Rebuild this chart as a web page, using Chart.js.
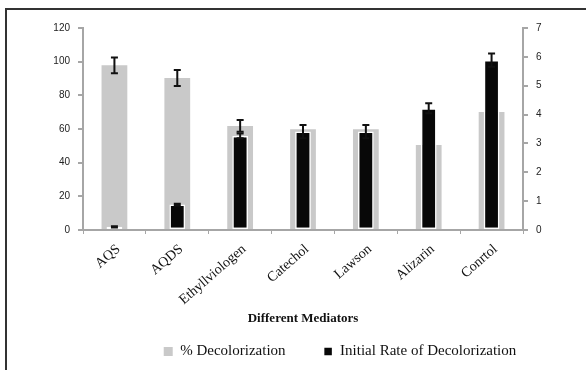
<!DOCTYPE html>
<html>
<head>
<meta charset="utf-8">
<script src="https://cdn.jsdelivr.net/npm/chart.js@4.4.1/dist/chart.umd.min.js"></script>
<style>
  html, body { margin: 0; padding: 0; background: #fff; }
  #wrap { position: relative; width: 586px; height: 370px; overflow: hidden; }
  #frame { position: absolute; left: 5px; top: 8px; width: 620px; height: 400px;
           border-left: 2px solid #333; border-top: 2px solid #333; }
  #chart { position: absolute; left: 0; top: 0; }
</style>
</head>
<body>
<div id="wrap">
  <div id="frame"></div>
  <canvas id="chart" width="586" height="370"></canvas>
</div>
<script>
// values
var mediators = ["AQS", "AQDS", "Ethyllviologen", "Catechol", "Lawson", "Alizarin", "Conrtol"];
var decolorization = [97.8, 90.3, 61.8, 59.8, 59.8, 50.5, 70.1];
var decolorizationErr = [4.7, 4.7, 3.5, null, null, null, null];
var initialRate = [0.11, 0.88, 3.26, 3.41, 3.41, 4.22, 5.89];
var initialRateErr = [0.02, 0.03, 0.08, 0.23, 0.23, 0.17, 0.23];
var leftTicks = [0, 20, 40, 60, 80, 100, 120];
var rightTicks = [0, 1, 2, 3, 4, 5, 6, 7];

var serif = "'Liberation Serif', 'Times New Roman', serif";
var sans = "'Liberation Sans', Arial, sans-serif";
var axisGray = "#a6a6a6";

// draws the error bars through the chart scales
var errorBars = {
	id: "errorBars",
	afterDatasetsDraw: function (chart) {
		var ctx = chart.ctx;
		ctx.save();
		ctx.strokeStyle = "#111";
		ctx.lineWidth = 2;
		chart.data.datasets.forEach(function (ds, i) {
			var meta = chart.getDatasetMeta(i);
			var scale = chart.scales[ds.yAxisID];
			ds.errors.forEach(function (e, j) {
				if (e == null) return;
				var x = meta.data[j].x;
				var yTop = scale.getPixelForValue(ds.data[j] + e);
				var yBot = scale.getPixelForValue(ds.data[j] - e);
				ctx.beginPath();
				ctx.moveTo(x, yTop);
				ctx.lineTo(x, yBot);
				ctx.moveTo(x - 3.5, yTop);
				ctx.lineTo(x + 3.5, yTop);
				ctx.moveTo(x - 3.5, yBot);
				ctx.lineTo(x + 3.5, yBot);
				ctx.stroke();
			});
		});
		ctx.restore();
	},
};

// nudge the legend to sit where the original one does
var legendShift = {
	id: "legendShift",
	afterLayout: function (chart) {
		var lg = chart.legend;
		lg.left += 47;
		lg.right += 47;
		lg.top -= 22;
	},
};

var context = document.getElementById("chart").getContext("2d");
var chart = new Chart(context, {
	type: "bar",
	data: {
		labels: mediators,
		datasets: [
			{
				label: "% Decolorization",
				data: decolorization,
				errors: decolorizationErr,
				yAxisID: "y",
				backgroundColor: "#c9c9c9",
				borderWidth: 0,
				barPercentage: 0.41,
				categoryPercentage: 1,
				grouped: false,
				order: 2,
			},
			{
				label: "Initial Rate of Decolorization",
				data: initialRate,
				errors: initialRateErr,
				yAxisID: "y1",
				backgroundColor: "#080808",
				borderColor: "#ffffff",
				borderWidth: 1.5,
				borderSkipped: false,
				barPercentage: 0.25,
				categoryPercentage: 1,
				grouped: false,
				order: 1,
			},
		],
	},
	options: {
		responsive: false,
		animation: false,
		layout: { padding: { top: 28, bottom: 6, left: 0, right: 0 } },
		plugins: {
			tooltip: { enabled: false },
			legend: {
				position: "bottom",
				maxHeight: 36,
				labels: {
					font: { family: serif, size: 15 },
					color: "#111",
					boxWidth: 9,
					boxHeight: 9,
					padding: 38,
					sort: function (a, b) { return a.datasetIndex - b.datasetIndex; },
				},
			},
		},
		scales: {
			x: {
				offset: true,
				grid: { offset: true, drawOnChartArea: false, tickLength: 4, color: axisGray, lineWidth: 1 },
				border: { color: axisGray, width: 2 },
				ticks: { font: { family: serif, size: 14 }, color: "#111", minRotation: 41, maxRotation: 41, padding: 7, labelOffset: 4 },
				title: { display: true, text: "Different Mediators", font: { family: serif, size: 13, weight: "bold" }, color: "#111", padding: { top: 4, bottom: 2 } },
				afterFit: function (scale) { scale.height = 98; },
			},
			y: {
				position: "left",
				min: 0,
				max: 120,
				afterBuildTicks: function (scale) { scale.ticks = leftTicks.map(function (v) { return { value: v }; }); },
				grid: { drawOnChartArea: false, tickLength: 5, color: axisGray, lineWidth: 2 },
				border: { color: axisGray, width: 2 },
				ticks: { font: { family: sans, size: 10 }, color: "#222", padding: 8 },
				afterFit: function (scale) { scale.width = 83; },
			},
			y1: {
				position: "right",
				min: 0,
				max: 7,
				afterBuildTicks: function (scale) { scale.ticks = rightTicks.map(function (v) { return { value: v }; }); },
				grid: { drawOnChartArea: false, tickLength: 5, color: axisGray, lineWidth: 2 },
				border: { color: axisGray, width: 2 },
				ticks: { font: { family: sans, size: 10 }, color: "#222", padding: 8 },
				afterFit: function (scale) { scale.width = 63; },
			},
		},
	},
	plugins: [errorBars, legendShift],
});
</script>
</body>
</html>
